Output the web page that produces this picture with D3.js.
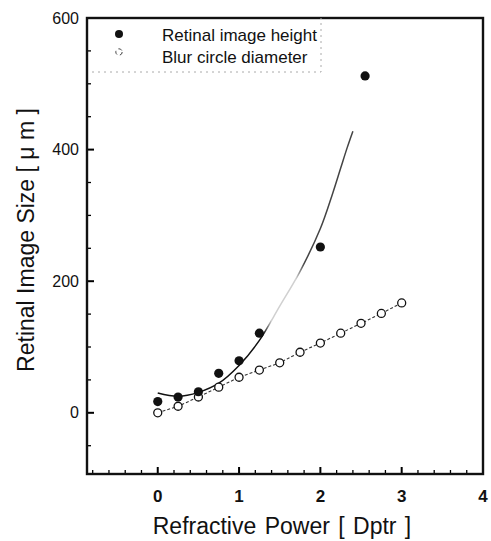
<!DOCTYPE html>
<html><head><meta charset="utf-8">
<script src="https://cdn.jsdelivr.net/npm/d3@7"></script>
<style>body{margin:0;background:#fff}svg{display:block}text{font-family:Arial,"Liberation Sans",Helvetica,sans-serif;fill:#111}</style>
</head><body><svg id="c" width="491" height="541"></svg>
<script>
// ---- data ----
const powerFilled = [0, 0.25, 0.5, 0.75, 1.0, 1.25, 2.0, 2.55];
const imageHeight = [17, 24, 32, 60, 79, 121, 252, 512];
const powerOpen = [0, 0.25, 0.5, 0.75, 1.0, 1.25, 1.5, 1.75, 2.0, 2.25, 2.5, 2.75, 3.0];
const blurDiameter = [0, 10, 24, 39, 54, 65, 76, 92, 106, 121, 136, 151, 167];
const fitPower = [0, 0.25, 0.5, 0.75, 1.0, 1.25, 1.5, 1.75, 2.0, 2.15, 2.25, 2.33, 2.4];
const fitHeight = [30, 25, 31, 45, 72, 110, 162, 215, 280, 333, 372, 403, 428];
const xTicks = [0, 1, 2, 3, 4];
const yTicks = [0, 200, 400, 600];
const seriesNames = ["Retinal image height", "Blur circle diameter"];
const xTitle = "Refractive Power  [ Dptr ]";
const yTitle = "Retinal Image Size  [ \u03BC m ]";

// ---- layout ----
const L = 87, R = 483, T = 18, B = 474;
const svg = d3.select("#c");
const x = d3.scaleLinear().domain([-0.87, 4]).range([L, R]);
const y = d3.scaleLinear().domain([-93, 600]).range([B, T]);

// gradient for the faded fit line
const defs = svg.append("defs");
const g = defs.append("linearGradient").attr("id", "fitg").attr("gradientUnits", "userSpaceOnUse")
  .attr("x1", x(0)).attr("x2", x(2.4)).attr("y1", 0).attr("y2", 0);
const f0 = 1.3 / 2.4, f1 = 1.4 / 2.4, f2 = 1.7 / 2.4, f3 = 1.8 / 2.4;
[[0, "#111"], [f0, "#111"], [f1, "#d0d0d0"], [f2, "#d0d0d0"], [f3, "#444"], [1, "#444"]]
  .forEach(([o, c]) => g.append("stop").attr("offset", o).attr("stop-color", c));

// tick values
const xMinor = d3.range(-0.8, 4.0001, 0.2).filter(v => Math.abs(v - Math.round(v)) > 1e-6);
const yMinor = d3.range(-50, 600, 50).filter(v => v % 200 !== 0);

const tickG = svg.append("g").attr("stroke", "#000");
// x ticks (inward, upward from bottom axis)
tickG.selectAll("line.xM").data(xTicks.filter(v => v < 4)).join("line").attr("class", "xM")
  .attr("x1", d => x(d)).attr("x2", d => x(d)).attr("y1", B).attr("y2", B - 7).attr("stroke-width", 2);
tickG.selectAll("line.xm").data(xMinor).join("line").attr("class", "xm")
  .attr("x1", d => x(d)).attr("x2", d => x(d)).attr("y1", B).attr("y2", B - 4).attr("stroke-width", 1.3);
// y ticks (inward, rightward from left axis)
tickG.selectAll("line.yM").data(yTicks.filter(v => v < 600)).join("line").attr("class", "yM")
  .attr("y1", d => y(d)).attr("y2", d => y(d)).attr("x1", L).attr("x2", L + 7).attr("stroke-width", 2);
tickG.selectAll("line.ym").data(yMinor).join("line").attr("class", "ym")
  .attr("y1", d => y(d)).attr("y2", d => y(d)).attr("x1", L).attr("x2", L + 4).attr("stroke-width", 1.3);

// tick labels
svg.append("g").selectAll("text").data(xTicks).join("text")
  .attr("x", d => x(d)).attr("y", B + 28).attr("text-anchor", "middle")
  .attr("font-size", 17).attr("font-weight", "bold").text(d => d3.format("d")(d));
svg.append("g").selectAll("text").data(yTicks).join("text")
  .attr("x", L - 8).attr("y", d => y(d)).attr("dy", "0.35em").attr("text-anchor", "end")
  .attr("font-size", 16).text(d => d3.format("d")(d));

// frame
svg.append("rect").attr("x", L).attr("y", T).attr("width", R - L).attr("height", B - T)
  .attr("fill", "none").attr("stroke", "#111").attr("stroke-width", 2.4);

// faint legend box
svg.append("path").attr("d", `M${L + 5},72H321V${T}`).attr("fill", "none")
  .attr("stroke", "#aaa").attr("stroke-width", 1).attr("stroke-dasharray", "2,4");

// fit curve for image height
const fit = fitPower.map((p, i) => [p, fitHeight[i]]);
svg.append("path").datum(fit)
  .attr("d", d3.line().x(d => x(d[0])).y(d => y(d[1])).curve(d3.curveCatmullRom))
  .attr("fill", "none").attr("stroke", "url(#fitg)").attr("stroke-width", 1.5);

// blur circle line
const blur = powerOpen.map((p, i) => [p, blurDiameter[i]]);
svg.append("path").datum(blur)
  .attr("d", d3.line().x(d => x(d[0])).y(d => y(d[1])))
  .attr("fill", "none").attr("stroke", "#333").attr("stroke-width", 1.1).attr("stroke-dasharray", "3,2");
svg.append("g").selectAll("circle").data(blur).join("circle")
  .attr("cx", d => x(d[0])).attr("cy", d => y(d[1])).attr("r", 4)
  .attr("fill", "#fff").attr("stroke", "#111").attr("stroke-width", 1.3);

// image height points
const img = powerFilled.map((p, i) => [p, imageHeight[i]]);
svg.append("g").selectAll("circle").data(img).join("circle")
  .attr("cx", d => x(d[0])).attr("cy", d => y(d[1])).attr("r", 4.6).attr("fill", "#111");

// legend
svg.append("circle").attr("cx", 119).attr("cy", 34).attr("r", 4).attr("fill", "#111");
svg.append("circle").attr("cx", 119).attr("cy", 52).attr("r", 3.2).attr("fill", "#fff")
  .attr("stroke", "#444").attr("stroke-width", 1).attr("stroke-dasharray", "4,3");
svg.append("text").attr("x", 162).attr("y", 41).attr("font-size", 17).text(seriesNames[0]);
svg.append("text").attr("x", 162).attr("y", 63).attr("font-size", 17).text(seriesNames[1]);

// titles
svg.append("text").attr("x", 282).attr("y", 534).attr("text-anchor", "middle")
  .attr("font-size", 23).attr("word-spacing", 2).text(xTitle);
svg.append("text").attr("transform", "translate(34,240) rotate(-90)").attr("text-anchor", "middle")
  .attr("font-size", 23).text(yTitle);
</script></body></html>
